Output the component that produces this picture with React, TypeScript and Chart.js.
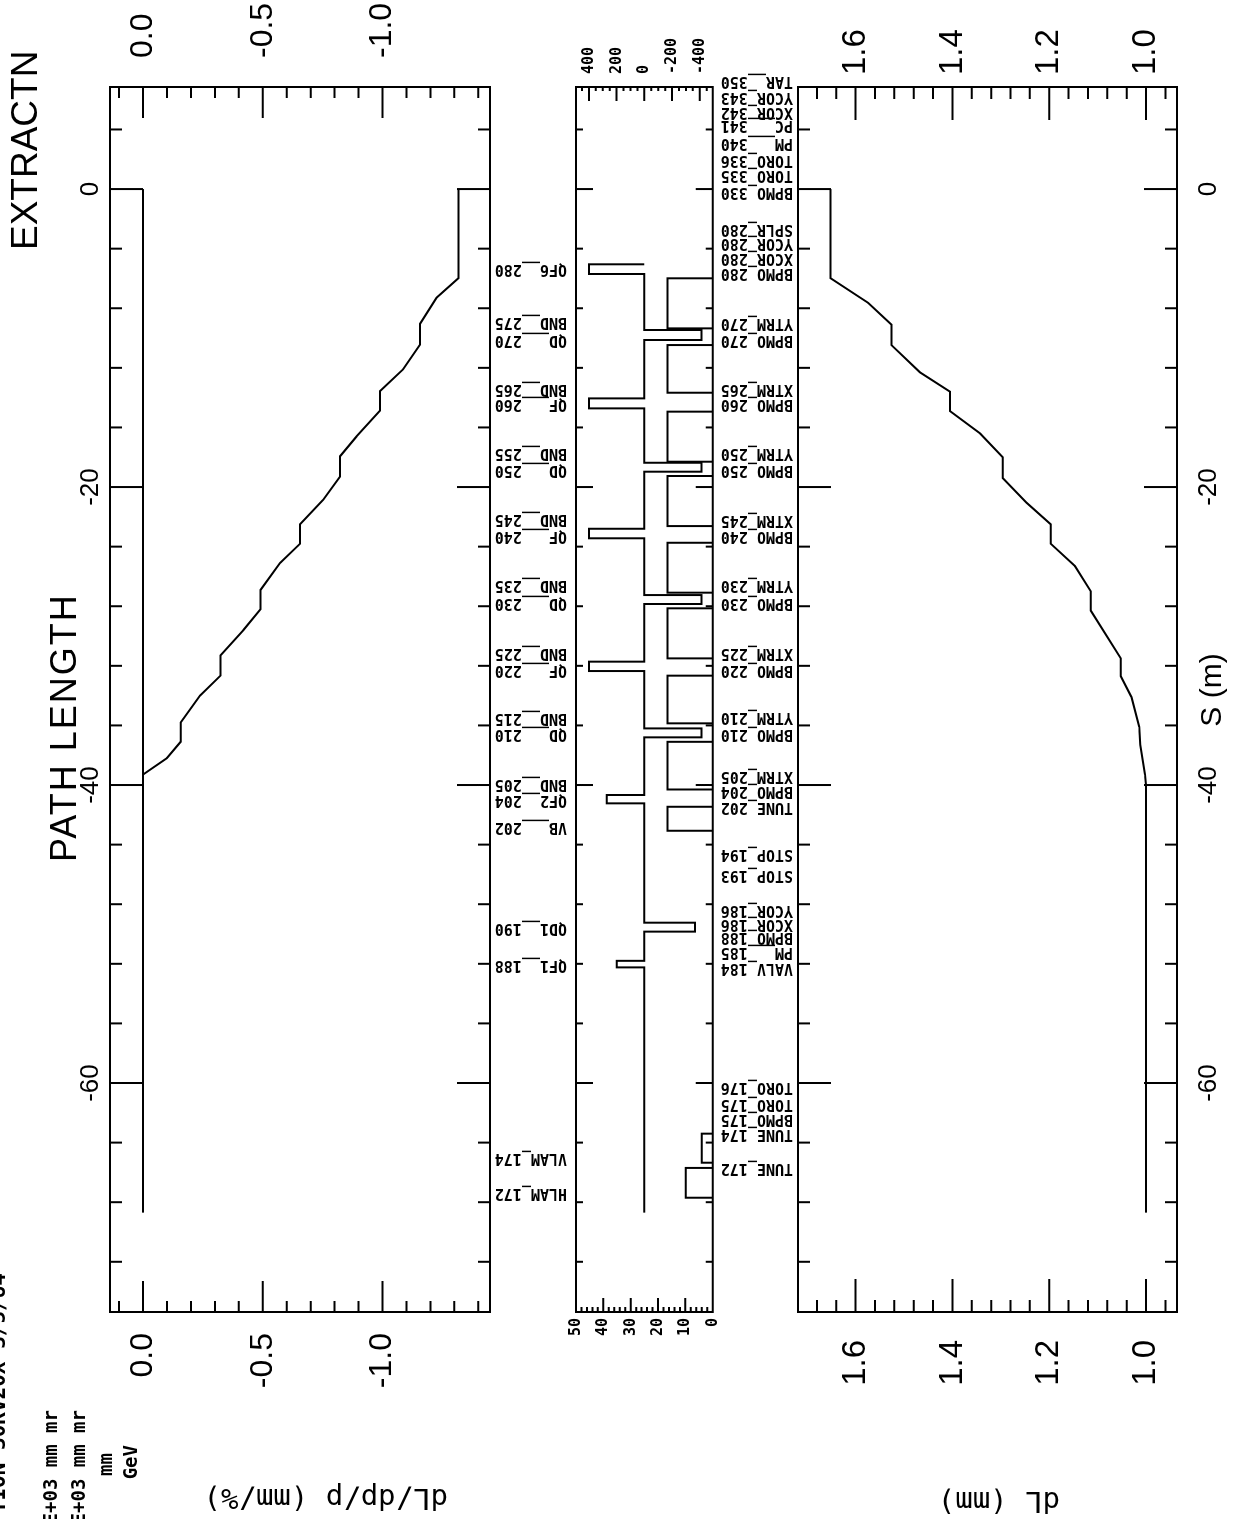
import React, { useEffect, useRef } from 'react';
import { Chart, registerables } from 'chart.js';

Chart.register(...registerables);

const CANVAS_W = 1519;
const CANVAS_H = 1260;

/* ---------- shared S axis (m) ---------- */
const S_MIN = -75.37;
const S_MAX = 6.85;
const sTicks = [4, 0, -4, -8, -12, -16, -20, -24, -28, -32, -36, -40, -44, -48, -52, -56, -60, -64, -68, -72];
const sTickLabels = [0, -20, -40, -60];

/* ---------- panel 1 : dL/dp/p (mm/%) ---------- */
const dispMin = -1.449;
const dispMax = 0.138;
const dispTicks = [0.1, 0, -0.1, -0.2, -0.3, -0.4, -0.5, -0.6, -0.7, -0.8, -0.9, -1.0, -1.1, -1.2, -1.3, -1.4];
const dispTickLabels = [0, -0.5, -1.0];
const zeroLineS = [-68.7, 0];
const zeroLineV = [0, 0];
const pathS = [-39.3, -38.2, -37.1, -35.8, -34.0, -32.65, -31.3, -29.6, -28.2, -26.9, -25.1, -23.8, -22.5, -20.85, -19.3, -17.93, -16.6, -14.87, -13.56, -12.1, -10.44, -9.04, -7.29, -5.98, 0];
const pathV = [0, -0.099, -0.157, -0.157, -0.238, -0.324, -0.324, -0.419, -0.491, -0.491, -0.572, -0.656, -0.656, -0.753, -0.823, -0.823, -0.892, -0.99, -0.99, -1.086, -1.157, -1.157, -1.226, -1.317, -1.317];

/* ---------- panel 2 : beam line elements ---------- */
const gradMin = -493;
const gradMax = 493;
const gradTicks = [450, 400, 350, 300, 250, 200, 150, 100, 50, 0, -50, -100, -150, -200, -250, -300, -350, -400, -450];
const gradTickLabels = [400, 200, 0, -200, -400];
const lenMin = 0;
const lenMax = 50;
const lenTicks = [0, 2, 4, 6, 8, 10, 12, 14, 16, 18, 20, 22, 24, 26, 28, 30, 32, 34, 36, 38, 40, 42, 44, 46, 48, 50];
const lenTickLabels = [0, 10, 20, 30, 40, 50];

const quadUpper = [-5.05, -9.46, -14.05, -18.37, -22.8, -27.25, -31.72, -36.2, -40.67, -49.24, -51.8];
const quadLower = [-5.7, -10.13, -14.72, -18.97, -23.44, -27.85, -32.35, -36.8, -41.23, -49.84, -52.24];
const quadStrength = [400, -413, 400, -413, 400, -413, 400, -413, 271, -365, 199];
const baselineEndS = -68.7;

const boxUpper = [-5.99, -10.47, -14.94, -19.26, -23.74, -28.14, -32.66, -37.1, -41.46, -63.4, -65.7];
const boxLower = [-9.35, -13.67, -18.3, -22.62, -27.09, -31.5, -35.86, -40.3, -43.07, -65.35, -67.7];
const boxHeight = [16.5, 16.5, 16.5, 16.5, 16.5, 16.5, 16.5, 16.5, 16.5, 4.0, 9.9];

const leftLabelNames = ['QF6__280', 'BND__275', 'QD___270', 'BND__265', 'QF___260', 'BND__255', 'QD___250', 'BND__245', 'QF___240', 'BND__235', 'QD___230', 'BND__225', 'QF___220', 'BND__215', 'QD___210', 'BND__205', 'QF2__204', 'VB___202', 'QD1__190', 'QF1__188', 'VLAM_174', 'HLAM_172'];
const leftLabelS = [-5.33, -8.9, -10.1, -13.4, -14.45, -17.74, -18.86, -22.15, -23.3, -26.6, -27.8, -31.1, -32.3, -35.5, -36.6, -39.9, -41.0, -42.8, -49.6, -52.1, -65.05, -67.4];

const rightLabelNames = ['TAR__350', 'YCOR_343', 'XCOR_342', 'PC___341', 'PM___340', 'TORO_336', 'TORO_335', 'BPMO_330', 'SPLR_280', 'YCOR_280', 'XCOR_280', 'BPMO_280', 'YTRM_270', 'BPMO_270', 'XTRM_265', 'BPMO_260', 'YTRM_250', 'BPMO_250', 'XTRM_245', 'BPMO_240', 'YTRM_230', 'BPMO_230', 'XTRM_225', 'BPMO_220', 'YTRM_210', 'BPMO_210', 'XTRM_205', 'BPMO_204', 'TUNE_202', 'STOP_194', 'STOP_193', 'YCOR_186', 'XCOR_186', 'BPMO_188', 'PM___185', 'VALV_184', 'TORO_176', 'TORO_175', 'BPMO_175', 'TUNE_174', 'TUNE_172'];
const rightLabelS = [7.25, 6.2, 5.19, 4.3, 3.07, 1.95, 0.94, -0.18, -2.64, -3.64, -4.65, -5.66, -9.01, -10.13, -13.38, -14.45, -17.74, -18.86, -22.2, -23.3, -26.6, -27.8, -31.1, -32.3, -35.4, -36.6, -39.4, -40.4, -41.5, -44.6, -46.0, -48.4, -49.35, -50.2, -51.2, -52.3, -60.25, -61.4, -62.4, -63.4, -65.7];

/* ---------- panel 3 : dL (mm) ---------- */
const dlMin = 0.936;
const dlMax = 1.719;
const dlTicks = [0.96, 1.0, 1.04, 1.08, 1.12, 1.16, 1.2, 1.24, 1.28, 1.32, 1.36, 1.4, 1.44, 1.48, 1.52, 1.56, 1.6, 1.64, 1.68];
const dlTickLabels = [1.0, 1.2, 1.4, 1.6];
const dlS = [-68.7, -40, -39.3, -37.3, -36.1, -34.1, -32.7, -31.5, -29.8, -28.3, -27.0, -25.3, -23.8, -22.5, -21.05, -19.4, -18.0, -16.4, -14.9, -13.6, -12.3, -10.47, -9.1, -7.64, -5.98, 0];
const dlV = [1.0, 1.0, 1.002, 1.012, 1.014, 1.03, 1.052, 1.052, 1.085, 1.114, 1.114, 1.147, 1.197, 1.197, 1.247, 1.296, 1.296, 1.343, 1.405, 1.405, 1.467, 1.526, 1.526, 1.574, 1.652, 1.652];

/* ---------- texts ---------- */
const titleMain = 'PATH LENGTH';
const titleSection = 'EXTRACTN';
const xAxisTitle = 'S (m)';
const yTitleTop = 'dL/dp/p (mm/%)';
const yTitleBottom = 'dL (mm)';
const headerLines = ['TION 30KV20X 3/5/84', 'E+03 mm mr', 'E+03 mm mr', 'mm', 'GeV'];

/* ---------- helpers ---------- */
const isIn = (v: number, list: number[]) => list.some((l) => Math.abs(l - v) < 1e-6);
const labelFor = (v: any, list: number[], fmt: (n: number) => string) => {
  const n = Number(v);
  const hit = list.find((l) => Math.abs(l - n) < 1e-6);
  return hit === undefined ? '' : fmt(hit);
};
const toXY = (xs: number[], ys: (number | null)[]) => xs.map((x, i) => ({ x, y: ys[i] }));

const BIG_FONT = 'Liberation Sans';
const MONO = 'DejaVu Sans Mono';

function sAxis(position: 'top' | 'bottom' | null, size: number, padding: number) {
  return {
    type: 'linear',
    min: S_MIN,
    max: S_MAX,
    display: position !== null,
    position: position || 'bottom',
    grid: { display: false, drawTicks: false },
    border: { display: false },
    ticks: {
      stepSize: 4,
      includeBounds: false,
      autoSkip: false,
      maxTicksLimit: 200,
      maxRotation: 0,
      minRotation: 0,
      padding,
      color: '#000',
      font: { family: BIG_FONT, size: 26 },
      callback: (v: any) => labelFor(v, sTickLabels, (n) => String(n)),
    },
    afterFit: (s: any) => {
      s.height = size;
    },
  };
}

function valAxis(
  position: 'left' | 'right',
  min: number,
  max: number,
  step: number,
  labels: number[],
  fmt: (n: number) => string,
  width: number,
  padding: number,
  font: any,
) {
  return {
    type: 'linear',
    position,
    min,
    max,
    grid: { display: false, drawTicks: false },
    border: { display: false },
    ticks: {
      stepSize: step,
      includeBounds: false,
      autoSkip: false,
      maxTicksLimit: 200,
      padding,
      color: '#000',
      font,
      callback: (v: any) => labelFor(v, labels, fmt),
    },
    afterFit: (s: any) => {
      s.width = width;
    },
  };
}

type TickSpec = { ticks: number[]; labels: number[]; maj: number; min: number };

function framePlugin(id: string, sMaj: number, sMin: number, left: TickSpec, right: TickSpec) {
  return {
    id,
    afterDatasetsDraw(chart: any) {
      const { ctx, chartArea: a } = chart;
      const xs = chart.scales.x;
      const yl = chart.scales.y;
      const yr = chart.scales.y2;
      ctx.save();
      ctx.strokeStyle = '#000';
      ctx.lineWidth = 2;
      ctx.lineCap = 'butt';
      ctx.beginPath();
      ctx.rect(a.left, a.top, a.right - a.left, a.bottom - a.top);
      sTicks.forEach((s) => {
        const p = xs.getPixelForValue(s);
        const L = isIn(s, sTickLabels) ? sMaj : sMin;
        ctx.moveTo(p, a.top);
        ctx.lineTo(p, a.top + L);
        ctx.moveTo(p, a.bottom);
        ctx.lineTo(p, a.bottom - L);
      });
      left.ticks.forEach((v) => {
        const p = yl.getPixelForValue(v);
        const L = isIn(v, left.labels) ? left.maj : left.min;
        ctx.moveTo(a.left, p);
        ctx.lineTo(a.left + L, p);
      });
      right.ticks.forEach((v) => {
        const p = yr.getPixelForValue(v);
        const L = isIn(v, right.labels) ? right.maj : right.min;
        ctx.moveTo(a.right, p);
        ctx.lineTo(a.right - L, p);
      });
      ctx.stroke();
      ctx.restore();
    },
  };
}

const lineDs = (data: any[], yAxisID: string) => ({
  data,
  yAxisID,
  showLine: true,
  pointRadius: 0,
  borderColor: '#000',
  borderWidth: 2,
  fill: false,
  tension: 0,
  borderJoinStyle: 'miter',
  spanGaps: false,
});

const baseOptions = (padding: any, scales: any) => ({
  responsive: false,
  maintainAspectRatio: false,
  animation: false,
  devicePixelRatio: 1,
  events: [],
  layout: { padding },
  plugins: { legend: { display: false }, tooltip: { enabled: false }, title: { display: false } },
  scales,
});

/* ---------- chart configs ---------- */
function config1(): any {
  const textPlugin = {
    id: 'texts1',
    afterDraw(chart: any) {
      const ctx = chart.ctx;
      ctx.save();
      ctx.fillStyle = '#000';
      ctx.textBaseline = 'alphabetic';
      ctx.textAlign = 'left';
      ctx.font = `36px "${BIG_FONT}"`;
      ctx.letterSpacing = '2px';
      ctx.fillText(titleMain, 657, 76);
      ctx.letterSpacing = '0px';
      ctx.font = `37px "${BIG_FONT}"`;
      ctx.fillText(titleSection, 1269, 37);
      ctx.textAlign = 'right';
      ctx.font = `bold 21px "${MONO}"`;
      ctx.fillText(headerLines[0], 246, 5);
      ctx.font = `bold 19px "${MONO}"`;
      ctx.fillText(headerLines[1], 109, 57);
      ctx.fillText(headerLines[2], 109, 85);
      ctx.fillText(headerLines[3], 66, 112);
      ctx.fillText(headerLines[4], 74, 137);
      ctx.font = `29px "${MONO}"`;
      ctx.textAlign = 'left';
      ctx.textBaseline = 'middle';
      ctx.translate(22, 448);
      ctx.rotate(-Math.PI / 2);
      ctx.fillText(yTitleTop, 0, 0);
      ctx.restore();
    },
  };
  const fmt = (n: number) => n.toFixed(1);
  const font = { family: BIG_FONT, size: 32 };
  return {
    type: 'scatter',
    data: {
      datasets: [lineDs(toXY(zeroLineS, zeroLineV), 'y'), lineDs(toXY(pathS, pathV), 'y')],
    },
    options: baseOptions(
      { top: 0, left: 0, right: 0, bottom: CANVAS_H - 490 },
      {
        x: sAxis('top', 110, 4),
        y: valAxis('left', dispMin, dispMax, 0.1, dispTickLabels, fmt, 207, 21, font),
        y2: valAxis('right', dispMin, dispMax, 0.1, dispTickLabels, fmt, CANVAS_W - 1432, 29, font),
      },
    ),
    plugins: [
      framePlugin('frame1', 33, 12, { ticks: dispTicks, labels: dispTickLabels, maj: 31, min: 11 }, { ticks: dispTicks, labels: dispTickLabels, maj: 31, min: 11 }),
      textPlugin,
    ],
  };
}

function config2(): any {
  const quadPath: any[] = [];
  quadUpper.forEach((su, i) => {
    quadPath.push({ x: su, y: 0 }, { x: su, y: quadStrength[i] }, { x: quadLower[i], y: quadStrength[i] }, { x: quadLower[i], y: 0 });
  });
  quadPath.push({ x: baselineEndS, y: 0 });

  const boxPath: any[] = [];
  boxUpper.forEach((su, i) => {
    boxPath.push(
      { x: su, y: lenMin },
      { x: su, y: boxHeight[i] },
      { x: boxLower[i], y: boxHeight[i] },
      { x: boxLower[i], y: lenMin },
      { x: boxLower[i], y: null },
    );
  });

  const labelPlugin = {
    id: 'labels2',
    afterDraw(chart: any) {
      const ctx = chart.ctx;
      const xs = chart.scales.x;
      ctx.save();
      ctx.fillStyle = '#000';
      ctx.font = `bold 15px "${MONO}"`;
      ctx.textAlign = 'left';
      ctx.textBaseline = 'middle';
      const draw = (names: string[], ss: number[], v0: number) => {
        names.forEach((name, i) => {
          const u = xs.getPixelForValue(ss[i]);
          ctx.save();
          ctx.translate(u, v0);
          ctx.rotate(-Math.PI / 2);
          ctx.fillText(name, 0, 0);
          ctx.restore();
        });
      };
      draw(leftLabelNames, leftLabelS, 567);
      draw(rightLabelNames, rightLabelS, 793);
      ctx.restore();
    },
  };
  const font = { family: MONO, size: 15, weight: 'bold' };
  return {
    type: 'scatter',
    data: { datasets: [lineDs(quadPath, 'y2'), lineDs(boxPath, 'y')] },
    options: baseOptions(
      { top: 576, left: 0, right: 0, bottom: CANVAS_H - 712.7 },
      {
        x: sAxis(null, 0, 0),
        y: valAxis('left', lenMin, lenMax, 2, lenTickLabels, (n) => String(n), 207, 6, font),
        y2: valAxis('right', gradMin, gradMax, 50, gradTickLabels, (n) => String(n), CANVAS_W - 1432, 13, font),
      },
    ),
    plugins: [
      framePlugin('frame2', 17, 7, { ticks: lenTicks, labels: lenTickLabels, maj: 14, min: 5 }, { ticks: gradTicks, labels: gradTickLabels, maj: 14, min: 4 }),
      labelPlugin,
    ],
  };
}

function config3(): any {
  const textPlugin = {
    id: 'texts3',
    afterDraw(chart: any) {
      const ctx = chart.ctx;
      ctx.save();
      ctx.fillStyle = '#000';
      ctx.font = `30px "${BIG_FONT}"`;
      ctx.textAlign = 'center';
      ctx.textBaseline = 'alphabetic';
      ctx.fillText(xAxisTitle, 829, 1221);
      ctx.font = `29px "${MONO}"`;
      ctx.textAlign = 'left';
      ctx.textBaseline = 'middle';
      ctx.translate(19, 1060);
      ctx.rotate(-Math.PI / 2);
      ctx.fillText(yTitleBottom, 0, 0);
      ctx.restore();
    },
  };
  const fmt = (n: number) => n.toFixed(1);
  const font = { family: BIG_FONT, size: 33 };
  return {
    type: 'scatter',
    data: { datasets: [lineDs(toXY(dlS, dlV), 'y')] },
    options: baseOptions(
      { top: 798, left: 0, right: 0, bottom: 0 },
      {
        x: sAxis('bottom', CANVAS_H - 1177, 16),
        y: valAxis('left', dlMin, dlMax, 0.04, dlTickLabels, fmt, 207, 28, font),
        y2: valAxis('right', dlMin, dlMax, 0.04, dlTickLabels, fmt, CANVAS_W - 1432, 12, font),
      },
    ),
    plugins: [
      framePlugin('frame3', 33, 12, { ticks: dlTicks, labels: dlTickLabels, maj: 33, min: 12 }, { ticks: dlTicks, labels: dlTickLabels, maj: 33, min: 12 }),
      textPlugin,
    ],
  };
}

export default function App() {
  const r1 = useRef<HTMLCanvasElement>(null);
  const r2 = useRef<HTMLCanvasElement>(null);
  const r3 = useRef<HTMLCanvasElement>(null);

  useEffect(() => {
    const charts = [
      new Chart(r1.current as HTMLCanvasElement, config1()),
      new Chart(r2.current as HTMLCanvasElement, config2()),
      new Chart(r3.current as HTMLCanvasElement, config3()),
    ];
    return () => charts.forEach((c) => c.destroy());
  }, []);

  const cs: React.CSSProperties = { position: 'absolute', left: 0, top: 0, width: CANVAS_W, height: CANVAS_H };
  return (
    <div
      style={{
        position: 'fixed',
        left: 0,
        top: 0,
        width: CANVAS_W,
        height: CANVAS_H,
        transformOrigin: '0 0',
        transform: `translateY(${CANVAS_W}px) rotate(-90deg)`,
        background: '#fff',
        overflow: 'hidden',
      }}
    >
      <canvas ref={r1} width={CANVAS_W} height={CANVAS_H} style={cs} />
      <canvas ref={r2} width={CANVAS_W} height={CANVAS_H} style={cs} />
      <canvas ref={r3} width={CANVAS_W} height={CANVAS_H} style={cs} />
    </div>
  );
}
